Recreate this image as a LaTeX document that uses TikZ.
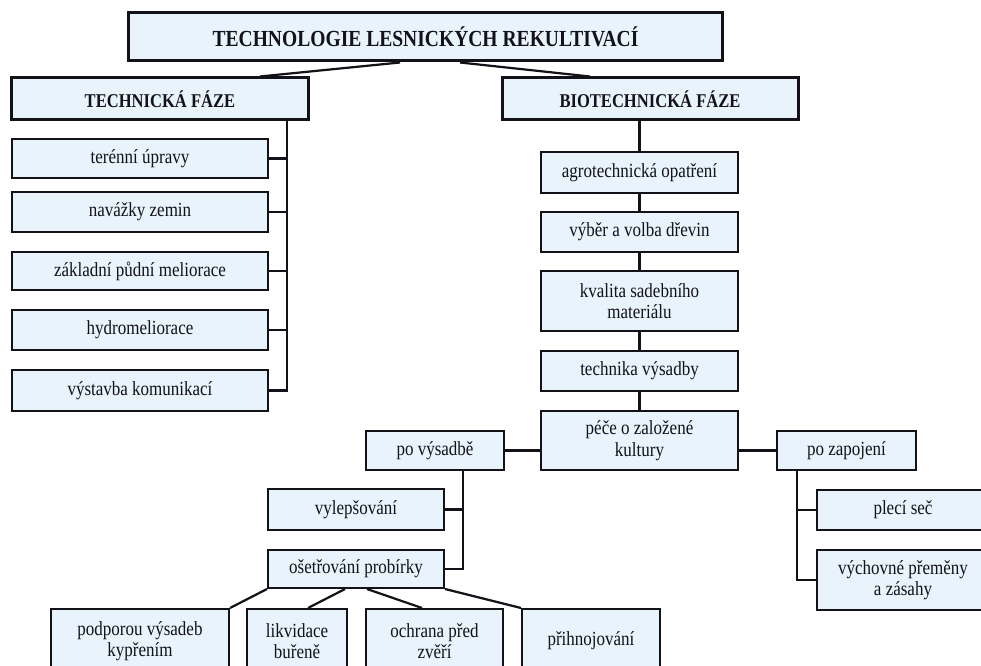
\documentclass[tikz,border=0pt]{standalone}
\usepackage{fontspec}
\setmainfont{Liberation Serif}[FakeStretch=0.85]
\usetikzlibrary{calc}
\definecolor{boxfill}{RGB}{232,243,252}
\definecolor{ink}{RGB}{18,18,24}
\tikzset{
  headbox/.style={draw=ink, line width=3bp, fill=boxfill, inner sep=0pt, text=ink,
    font=\fontsize{19.5bp}{21bp}\selectfont\bfseries},
  titlebox/.style={headbox, font=\fontsize{23bp}{25bp}\selectfont\bfseries},
  itembox/.style={draw=ink, line width=2bp, fill=boxfill, inner sep=0pt, text=ink,
    align=center, font=\fontsize{20bp}{21.5bp}\selectfont},
  link/.style={draw=ink, line width=2.2bp},
}
\begin{document}
\begin{tikzpicture}[x=1bp,y=-1bp]
\useasboundingbox (0,0) rectangle (981,666);
\clip (0,0) rectangle (981,666);
\fill[white] (0,0) rectangle (981,666);
% headings
\node[titlebox, minimum width=593bp, minimum height=48bp] (title) at (425.5,37) {TECHNOLOGIE LESNICKÝCH REKULTIVACÍ};
\node[headbox, minimum width=296bp, minimum height=42bp] (tech) at (160,99) {TECHNICKÁ FÁZE};
\node[headbox, minimum width=296bp, minimum height=42bp] (bio) at (650,99) {BIOTECHNICKÁ FÁZE};
% technical phase items
\node[itembox, minimum width=256bp, minimum height=39bp] (t1) at (140,158.5) {terénní úpravy};
\node[itembox, minimum width=256bp, minimum height=40bp] (t2) at (140,212) {navážky zemin};
\node[itembox, minimum width=256bp, minimum height=38bp] (t3) at (140,271) {základní půdní meliorace};
\node[itembox, minimum width=256bp, minimum height=40bp] (t4) at (140,330) {hydromeliorace};
\node[itembox, minimum width=256bp, minimum height=41bp] (t5) at (140,390.5) {výstavba komunikací};
% biotechnical phase column
\node[itembox, minimum width=197bp, minimum height=41bp] (b1) at (639.5,172.5) {agrotechnická opatření};
\node[itembox, minimum width=197bp, minimum height=40bp] (b2) at (639.5,232) {výběr a volba dřevin};
\node[itembox, minimum width=197bp, minimum height=60bp] (b3) at (639.5,301) {kvalita sadebního\\materiálu};
\node[itembox, minimum width=197bp, minimum height=40bp] (b4) at (639.5,371) {technika výsadby};
\node[itembox, minimum width=197bp, minimum height=59bp] (b5) at (639.5,440.5) {péče o založené\\kultury};
\node[itembox, minimum width=138bp, minimum height=39bp] (pv) at (435,450.5) {po výsadbě};
\node[itembox, minimum width=139bp, minimum height=39bp] (pz) at (846.5,450.5) {po zapojení};
\node[itembox, minimum width=176bp, minimum height=41bp] (vyl) at (356,509.5) {vylepšování};
\node[itembox, minimum width=176bp, minimum height=38bp] (os) at (356,569) {ošetřování probírky};
\node[itembox, minimum width=172bp, minimum height=40bp] (pl) at (903,510) {plecí seč};
\node[itembox, minimum width=172bp, minimum height=60bp] (vp) at (903,580) {výchovné přeměny\\a zásahy};
% bottom row
\node[itembox, minimum width=178bp, minimum height=64bp] (d1) at (140,641) {podporou výsadeb\\kypřením};
\node[itembox, minimum width=100bp, minimum height=64bp] (d2) at (297,641) {likvidace\\buřeně};
\node[itembox, minimum width=137bp, minimum height=64bp] (d3) at (434.5,641) {ochrana před\\zvěří};
\node[itembox, minimum width=138bp, minimum height=64bp] (d4) at (591,641) {přihnojování};
% connectors
\draw[link] ([xshift=-25.5bp]title.south) -- ([xshift=100bp]tech.north);
\draw[link] ([xshift=34.5bp]title.south) -- ([xshift=-60bp]bio.north);
\coordinate (tv) at (287,0);
\draw[link] (tech.south -| tv) -- (t5.east -| tv) -- (t5.east);
\foreach \n in {t1,t2,t3,t4} \draw[link] (\n.east) -- (\n.east -| tv);
\draw[link] (bio.south -| b1.north) -- (b1.north);
\draw[link] (b1) -- (b2);
\draw[link] (b2) -- (b3);
\draw[link] (b3) -- (b4);
\draw[link] (b4) -- (b5);
\draw[link] (pv.east) -- (pv.east -| b5.west);
\draw[link] (b5.east |- pz.west) -- (pz.west);
\coordinate (pvv) at (463,0);
\draw[link] (pv.south -| pvv) -- (os.east -| pvv) -- (os.east);
\draw[link] (vyl.east) -- (vyl.east -| pvv);
\coordinate (pzv) at (797,0);
\draw[link] (pz.south -| pzv) -- (vp.west -| pzv) -- (vp.west);
\draw[link] (pl.west) -- (pl.west -| pzv);
\draw[link] (os.south west) -- (d1.north east);
\draw[link] ([xshift=-11bp]os.south) -- ([xshift=11bp]d2.north);
\draw[link] ([xshift=11bp]os.south) -- ([xshift=-12.5bp]d3.north);
\draw[link] (os.south east) -- (d4.north west);
\end{tikzpicture}
\end{document}
